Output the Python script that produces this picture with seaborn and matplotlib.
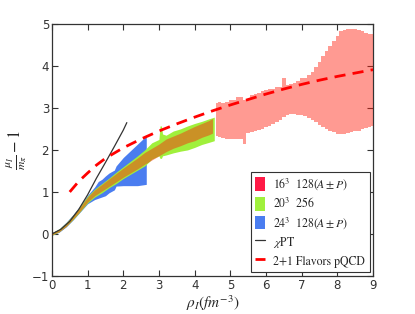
import matplotlib
matplotlib.use("Agg")
import numpy as np
import pandas as pd
import seaborn as sns
import matplotlib.pyplot as plt
from matplotlib.patches import Patch
from matplotlib.lines import Line2D

# ---------------- data ----------------
# 16^3 128(A+-P) band
red_x = [0.0, 0.2, 0.4, 0.6, 0.8, 1.0, 1.2, 1.4, 1.6, 1.8, 2.0, 2.2, 2.4, 2.6, 2.8,
         3.0, 3.2, 3.4, 3.6, 3.8, 4.0, 4.2, 4.4, 4.5,
         4.6, 4.7, 4.8, 4.9, 5.0, 5.1, 5.2, 5.3, 5.4, 5.5, 5.6, 5.7, 5.8, 5.9, 6.0,
         6.1, 6.2, 6.3, 6.4, 6.5, 6.6, 6.7, 6.8, 6.9, 7.0, 7.1, 7.2, 7.3, 7.4, 7.5,
         7.6, 7.7, 7.8, 7.9, 8.0, 8.1, 8.2, 8.3, 8.4, 8.5, 8.6, 8.7, 8.8, 8.9, 9.0]
red_lo = [-0.02, 0.05, 0.18, 0.36, 0.55, 0.76, 0.91, 1.02, 1.13, 1.24, 1.35, 1.45, 1.55, 1.66, 1.76,
          1.86, 1.96, 2.04, 2.10, 2.17, 2.22, 2.30, 2.36, 2.40,
          2.32, 2.30, 2.28, 2.26, 2.26, 2.26, 2.26, 2.27, 2.14, 2.40, 2.42, 2.45, 2.47, 2.50, 2.55,
          2.58, 2.62, 2.67, 2.72, 2.78, 2.82, 2.85, 2.85, 2.84, 2.82, 2.80, 2.76, 2.71, 2.66, 2.60,
          2.55, 2.50, 2.46, 2.42, 2.39, 2.37, 2.38, 2.41, 2.43, 2.45, 2.46, 2.49, 2.52, 2.55, 2.57]
red_hi = [0.03, 0.11, 0.26, 0.45, 0.65, 0.88, 1.05, 1.18, 1.31, 1.44, 1.57, 1.69, 1.81, 1.94, 2.04,
          2.14, 2.26, 2.33, 2.40, 2.48, 2.56, 2.63, 2.70, 2.75,
          3.12, 3.15, 3.12, 3.13, 3.20, 3.20, 3.25, 3.27, 3.20, 3.22, 3.30, 3.32, 3.35, 3.40, 3.42,
          3.44, 3.46, 3.49, 3.50, 3.70, 3.55, 3.58, 3.60, 3.65, 3.70, 3.72, 3.78, 3.85, 3.98, 4.10,
          4.23, 4.35, 4.48, 4.60, 4.72, 4.82, 4.85, 4.87, 4.88, 4.87, 4.85, 4.83, 4.79, 4.76, 4.75]

# 20^3 256 band
green_x = [0.0, 0.2, 0.4, 0.6, 0.8, 1.0, 1.2, 1.4, 1.6, 1.8, 2.0, 2.2, 2.4, 2.6, 2.8,
           3.0, 3.03, 3.07, 3.1, 3.2, 3.4, 3.6, 3.8, 4.0, 4.2, 4.4, 4.55]
green_lo = [-0.03, 0.05, 0.18, 0.35, 0.54, 0.74, 0.88, 0.98, 1.10, 1.20, 1.32, 1.42, 1.52, 1.62, 1.78,
            1.86, 1.80, 1.80, 1.86, 1.88, 1.93, 1.97, 2.00, 2.06, 2.13, 2.18, 2.22]
green_hi = [0.03, 0.12, 0.27, 0.46, 0.67, 0.90, 1.07, 1.20, 1.33, 1.47, 1.60, 1.73, 1.86, 2.00, 2.17,
            2.25, 2.57, 2.57, 2.38, 2.35, 2.45, 2.50, 2.57, 2.63, 2.68, 2.74, 2.78]

# 24^3 128(A+-P) band
blue_x = [0.0, 0.2, 0.4, 0.6, 0.8, 1.0, 1.2, 1.3, 1.4, 1.5, 1.6, 1.75, 1.8, 2.0, 2.2, 2.4, 2.64, 2.645]
blue_lo = [-0.03, 0.04, 0.17, 0.34, 0.53, 0.72, 0.82, 0.85, 0.88, 0.91, 0.98, 1.05, 1.14, 1.15, 1.15, 1.15, 1.18, 1.18]
blue_hi = [0.03, 0.12, 0.28, 0.47, 0.68, 0.92, 1.12, 1.25, 1.30, 1.38, 1.45, 1.52, 1.62, 1.82, 1.98, 2.14, 2.33, 2.33]

# chiral perturbation theory
chpt_x = [0.0, 0.25, 0.5, 0.75, 1.0, 1.25, 1.5, 1.75, 2.0, 2.1]
chpt_y = [0.0, 0.11, 0.30, 0.58, 0.93, 1.33, 1.70, 2.08, 2.47, 2.65]

# 2+1 flavors pQCD
pqcd_x = [0.5, 0.75, 1.0, 1.25, 1.5, 2.0, 2.5, 3.0, 3.5, 4.0, 4.5, 5.0, 5.5, 6.0,
          6.5, 7.0, 7.5, 8.0, 8.5, 9.0]
pqcd_y = [1.0, 1.25, 1.45, 1.64, 1.80, 2.05, 2.26, 2.45, 2.62, 2.78, 2.93, 3.07, 3.20, 3.33,
          3.45, 3.56, 3.66, 3.75, 3.83, 3.91]

labels = [r"$16^3$  128($A\pm P$)", r"$20^3$  256", r"$24^3$  128($A\pm P$)",
          r"$\chi$PT", "2+1 Flavors pQCD"]
x_ticks = [0, 1, 2, 3, 4, 5, 6, 7, 8, 9]
y_ticks = [-1, 0, 1, 2, 3, 4, 5]

# ---------------- style ----------------
sns.set_theme(style="ticks")
plt.rcParams["font.family"] = ["DejaVu Sans"]
plt.rcParams["mathtext.fontset"] = "stix"

c_red = (1.0, 0.12, 0.05)
c_green = "#a0f03c"
c_blue = "#4a7df0"

fig = plt.figure(figsize=(4.15, 3.14), dpi=100)
ax = fig.add_axes([0.125, 0.121, 0.774, 0.803])

ax.fill_between(blue_x, blue_lo, blue_hi, color=c_blue, lw=0, zorder=1)
ax.fill_between(green_x, green_lo, green_hi, color=c_green, lw=0, zorder=2)
k = red_x.index(4.5)
ax.fill_between(red_x[:k + 1], red_lo[:k + 1], red_hi[:k + 1],
                color=c_red, alpha=0.45, lw=0, zorder=3)
ax.fill_between(red_x[k + 1:], red_lo[k + 1:], red_hi[k + 1:], step="mid",
                color=c_red, alpha=0.45, lw=0, zorder=3)

df_chpt = pd.DataFrame({"x": chpt_x, "y": chpt_y})
df_pqcd = pd.DataFrame({"x": pqcd_x, "y": pqcd_y})
sns.lineplot(data=df_chpt, x="x", y="y", ax=ax, color="#333333", lw=0.9, zorder=4)
sns.lineplot(data=df_pqcd, x="x", y="y", ax=ax, color="red", lw=2.0,
             linestyle=(0, (4, 2.6)), zorder=5)

ax.set_xlim(0, 9)
ax.set_ylim(-1, 5)
ax.set_xticks(x_ticks)
ax.set_yticks(y_ticks)
ax.tick_params(direction="in", top=True, right=True, length=4, width=0.8,
               labelsize=8.5, colors="#333333", pad=2)
for s in ax.spines.values():
    s.set_color("#333333")
    s.set_linewidth(0.9)

ax.set_xlabel(r"$\rho_I(fm^{-3})$", fontsize=11, labelpad=1)
ax.set_ylabel(r"$\frac{\mu_I}{m_\pi}-1$", fontsize=12, labelpad=2)

handles = [Patch(facecolor="#ff1a46", edgecolor="none"),
           Patch(facecolor=c_green, edgecolor="none"),
           Patch(facecolor=c_blue, edgecolor="none"),
           Line2D([], [], color="#333333", lw=0.9),
           Line2D([], [], color="red", lw=2.0, linestyle=(0, (4, 2.6)))]
leg = ax.legend(handles, labels, loc="lower right", fancybox=False, framealpha=1,
                edgecolor="#333333", prop={"family": "STIXGeneral", "size": 8.5},
                handlelength=0.8, handleheight=1.4, handletextpad=0.7,
                labelspacing=0.35, borderpad=0.4, borderaxespad=0.3)
leg.get_frame().set_linewidth(0.8)

fig.savefig("out.png", dpi=100)
